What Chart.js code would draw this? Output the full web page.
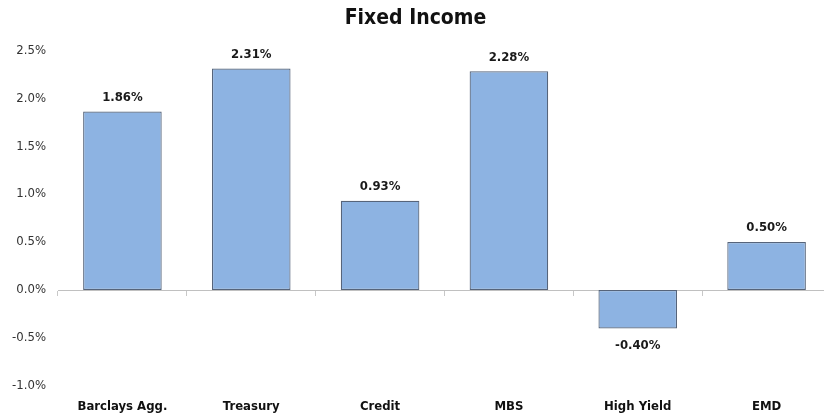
<!DOCTYPE html>
<html>
<head>
<meta charset="utf-8">
<script src="https://cdn.jsdelivr.net/npm/chart.js@4"></script>
<style>
html,body{margin:0;padding:0;background:#fff;overflow:hidden;}
#wrap{width:831px;height:417px;position:relative;}
</style>
</head>
<body>
<div id="wrap"><canvas id="c"></canvas></div>
<script>
const categories = ["Barclays Agg.", "Treasury", "Credit", "MBS", "High Yield", "EMD"];
const returns = [1.86, 2.31, 0.93, 2.28, -0.40, 0.50];
const yTicks = [-1.0, -0.5, 0.0, 0.5, 1.0, 1.5, 2.0, 2.5];

const FONT = "'DejaVu Sans Condensed', 'DejaVu Sans', sans-serif";

const valueLabels = {
  id: 'valueLabels',
  afterDatasetsDraw(chart) {
    const ctx = chart.ctx;
    const meta = chart.getDatasetMeta(0);
    ctx.save();
    ctx.font = "bold 13px " + FONT;
    ctx.fillStyle = '#1a1a1a';
    ctx.textAlign = 'center';
    ctx.textBaseline = 'middle';
    meta.data.forEach((bar, i) => {
      const v = returns[i];
      const txt = v.toFixed(2) + '%';
      const y = v >= 0 ? bar.y - 14 : bar.y + 17;
      ctx.fillText(txt, bar.x, y);
    });
    ctx.restore();
  }
};

new Chart(document.getElementById('c'), {
  type: 'bar',
  data: {
    labels: categories,
    datasets: [{
      data: returns,
      backgroundColor: '#8db3e2',
      borderColor: '#56647a',
      borderWidth: 1.2,
      borderSkipped: false,
      inflateAmount: 0,
      barPercentage: 0.61,
      categoryPercentage: 1.0,
      xAxisID: 'x',
      yAxisID: 'y'
    }]
  },
  options: {
    responsive: true,
    maintainAspectRatio: false,
    animation: false,
    layout: { padding: { left: 0, right: 0, top: 0, bottom: 0 } },
    plugins: {
      legend: { display: false },
      tooltip: { enabled: false },
      title: {
        display: true,
        text: 'Fixed Income',
        color: '#111',
        font: { family: FONT, size: 21, weight: 'bold' },
        padding: { top: 6, bottom: 19 }
      }
    },
    scales: {
      x: {
        type: 'category',
        position: { y: 0 },
        offset: true,
        grid: { display: true, drawOnChartArea: false, drawTicks: true, tickLength: 5, tickColor: '#c8c8c8', offset: true },
        border: { display: true, color: '#c0c0c0', width: 1 },
        ticks: { display: false }
      },
      x2: {
        type: 'category',
        position: 'bottom',
        offset: true,
        grid: { display: false, drawTicks: false },
        border: { display: false },
        ticks: { color: '#111', font: { family: FONT, size: 13, weight: 'bold' }, padding: 13, maxRotation: 0, autoSkip: false },
        afterFit(scale) { scale.height = 31; }
      },
      y: {
        min: -1.0,
        max: 2.5,
        afterBuildTicks(scale) { scale.ticks = yTicks.map(v => ({ value: v })); },
        grid: { display: false, drawTicks: false },
        border: { display: false },
        ticks: {
          color: '#333',
          font: { family: FONT, size: 13 },
          padding: 12,
          callback: v => Number(v).toFixed(1) + '%'
        },
        afterFit(scale) { scale.width = 58; }
      }
    }
  },
  plugins: [valueLabels]
});
</script>
</body>
</html>
